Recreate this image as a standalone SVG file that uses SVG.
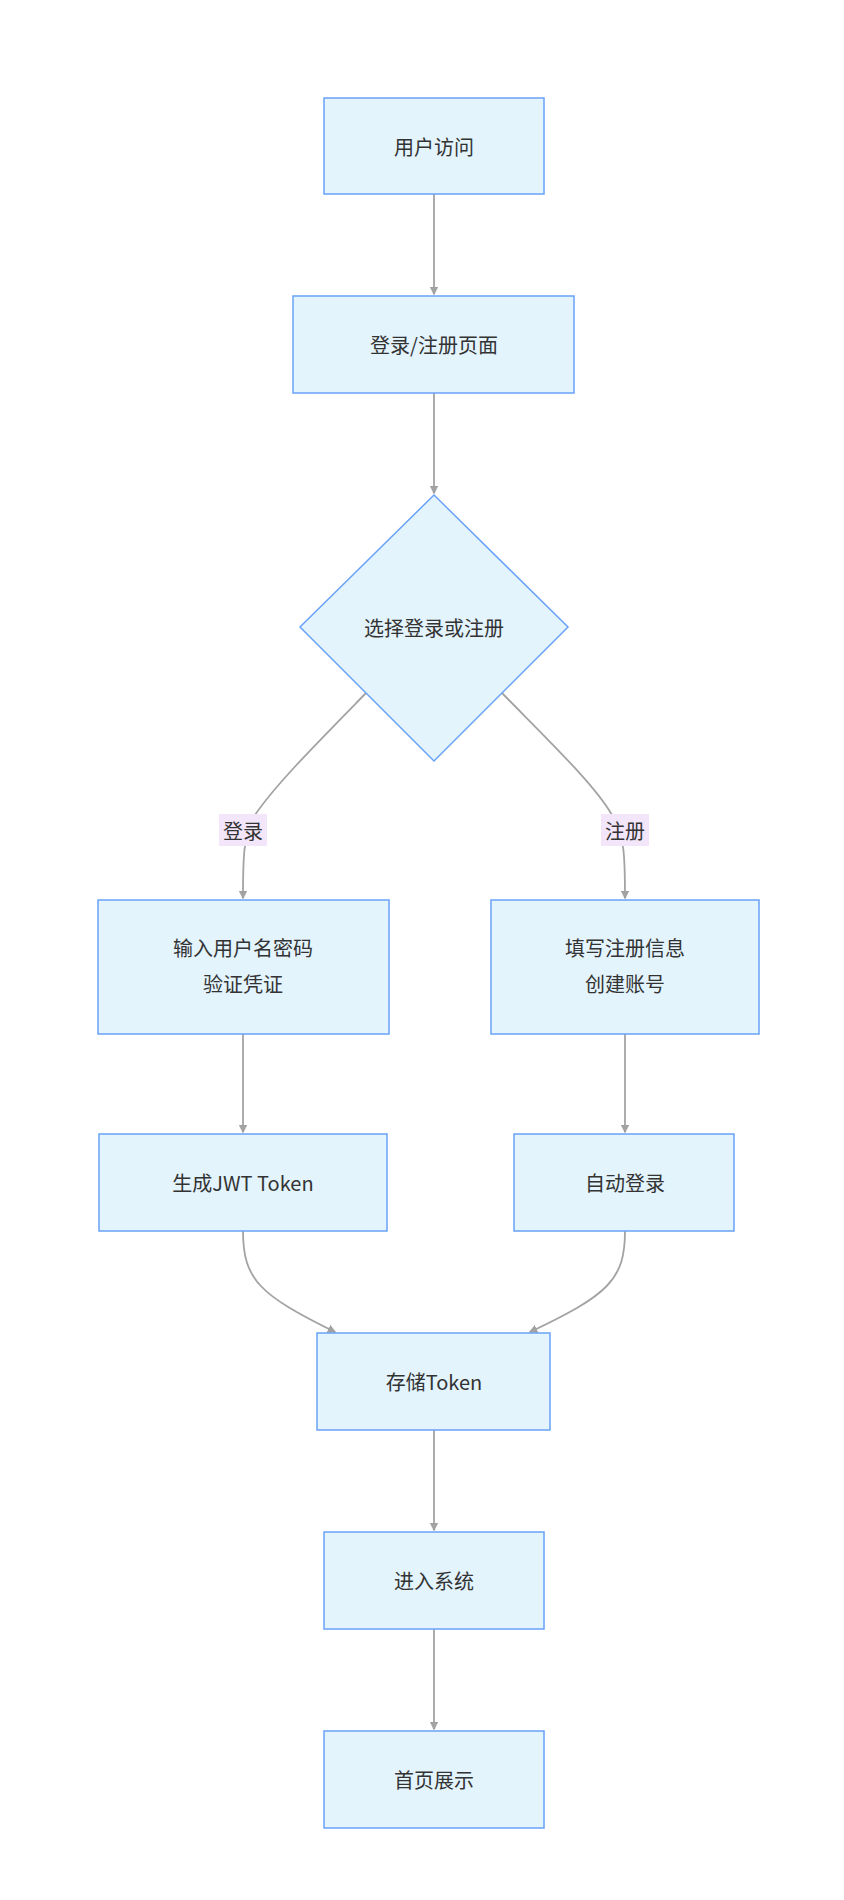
<svg xmlns="http://www.w3.org/2000/svg" width="844" height="1900" viewBox="0 0 844 1900">
<style>
.n{fill:#e3f4fd;stroke:#6aa2f8;stroke-width:1.5}
.t{font-family:"Noto Sans CJK SC","Noto Sans",sans-serif;font-size:20px;fill:#333;text-anchor:middle;dominant-baseline:central}
.e{fill:none;stroke:#a3a3a3;stroke-width:1.8}
.lb{fill:#f3e6fb}
</style>
<defs><marker id="a" viewBox="0 0 10 10" refX="9" refY="5" markerWidth="8" markerHeight="8" markerUnits="userSpaceOnUse" orient="auto"><path d="M0,0L10,5L0,10z" fill="#a3a3a3" stroke="#888" stroke-width="0.5"/></marker></defs>
<rect width="844" height="1900" fill="#fff"/>
<g id="edges">
<path class="e" d="M434,194V294" marker-end="url(#a)" style="marker-end:url(#a)"/>
<path class="e" d="M434,393V493" marker-end="url(#a)"/>
<path class="e" d="M367,692C320,740 275,785 255,815 C243,835 243,860 243,898" marker-end="url(#a)"/>
<path class="e" d="M501,692C548,740 595,785 612,815 C625,835 625,860 625,898" marker-end="url(#a)"/>
<path class="e" d="M243,1034V1132" marker-end="url(#a)"/>
<path class="e" d="M625,1034V1132" marker-end="url(#a)"/>
<path class="e" d="M243,1231C243,1280 260,1295 335,1332" marker-end="url(#a)"/>
<path class="e" d="M625,1231C625,1280 608,1295 530,1332" marker-end="url(#a)"/>
<path class="e" d="M434,1430V1530" marker-end="url(#a)"/>
<path class="e" d="M434,1629V1729" marker-end="url(#a)"/>
<rect class="lb" x="219" y="814" width="48" height="32"/><text class="t" x="243" y="830">登录</text>
<rect class="lb" x="601" y="814" width="48" height="32"/><text class="t" x="625" y="830">注册</text>
</g>
<g id="n1"><rect class="n" x="324" y="98" width="220" height="96"/><text class="t" x="434" y="146">用户访问</text></g>
<g id="n2"><rect class="n" x="293" y="296" width="281" height="97"/><text class="t" x="434" y="344">登录/注册页面</text></g>
<g id="n3"><polygon class="n" points="434,495 568,627 434,761 300,627"/><text class="t" x="434" y="627">选择登录或注册</text></g>
<g id="n4"><rect class="n" x="98" y="900" width="291" height="134"/><text class="t" x="243" y="947">输入用户名密码</text><text class="t" x="243" y="983">验证凭证</text></g>
<g id="n5"><rect class="n" x="491" y="900" width="268" height="134"/><text class="t" x="625" y="947">填写注册信息</text><text class="t" x="625" y="983">创建账号</text></g>
<g id="n6"><rect class="n" x="99" y="1134" width="288" height="97"/><text class="t" x="243" y="1182">生成JWT Token</text></g>
<g id="n7"><rect class="n" x="514" y="1134" width="220" height="97"/><text class="t" x="625" y="1182">自动登录</text></g>
<g id="n8"><rect class="n" x="317" y="1333" width="233" height="97"/><text class="t" x="434" y="1381">存储Token</text></g>
<g id="n9"><rect class="n" x="324" y="1532" width="220" height="97"/><text class="t" x="434" y="1580">进入系统</text></g>
<g id="n10"><rect class="n" x="324" y="1731" width="220" height="97"/><text class="t" x="434" y="1779">首页展示</text></g>
</svg>
